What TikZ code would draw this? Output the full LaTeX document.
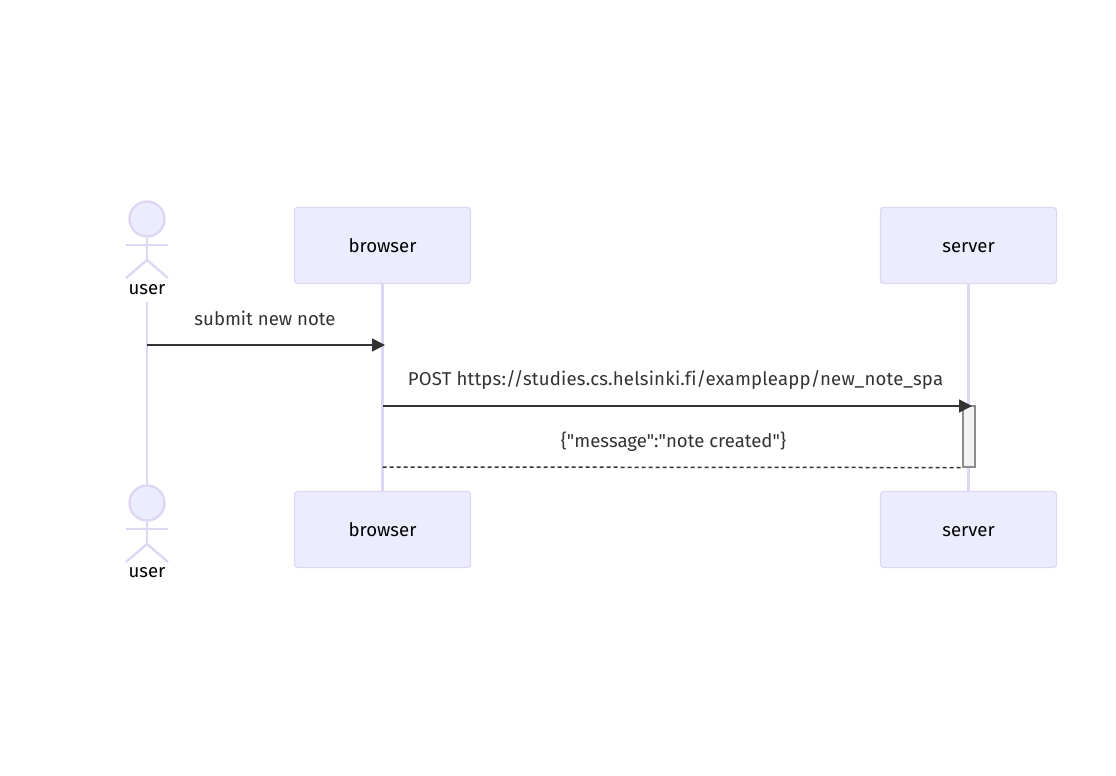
\documentclass[tikz,border=0pt]{standalone}
\usepackage{fontspec}
\setmainfont[Ligatures=NoCommon]{Fira Sans}
\newfontfamily\rawquotes[Ligatures=NoCommon]{Fira Sans}
\usepackage{xcolor}
\usetikzlibrary{arrows.meta,positioning}
\definecolor{actorfill}{HTML}{ECECFF}
\definecolor{actorline}{HTML}{DED7F4}
\definecolor{msgline}{HTML}{333333}
\begin{document}
\begin{tikzpicture}[x=1pt, y=-1pt, >={Triangle[length=13pt,width=13pt]},
  box/.style={draw=actorline, fill=actorfill, rounded corners=3pt, line width=1.2pt, minimum width=176pt, minimum height=76pt, inner sep=0pt, text height=13pt, text depth=0pt, font=\fontsize{18.6}{22}\selectfont},
  head/.style={draw=actorline, fill=actorfill, circle, line width=2.4pt, minimum size=35pt, inner sep=0pt},
  stick/.style={draw=actorline, line width=2.4pt},
  life/.style={draw=actorline, line width=2.2pt},
  who/.style={inner sep=0pt, text height=13pt, text depth=0pt, font=\fontsize{18.6}{22}\selectfont},
  msg/.style={draw=msgline, line width=1.5pt},
  lab/.style={anchor=base, inner sep=0pt, text=msgline, font=\fontsize{18.6}{22}\selectfont}]
  \useasboundingbox (0,0) rectangle (1116,776);
  \node[box] (browsertop) at (382.5,245.5) {browser};
  \node[box] (servertop) at (968.5,245.5) {server};
  \node[box] (browserbot) at (382.5,529.5) {browser};
  \node[box] (serverbot) at (968.5,529.5) {server};
  \node[who] (usertop) at (147,288) {user};
  \node[who] (userbot) at (147,571) {user};
  \node[head] (headtop) at (147,219) {};
  \node[head] (headbot) at (147,503) {};
  % lifelines
  \coordinate (usergo) at (147,302);
  \draw[life] (usergo) -- (headbot);
  \draw[life] (browsertop) -- (browserbot);
  \draw[life] (servertop) -- (serverbot);
  % stick figures
  \foreach \h/\y in {headtop/245, headbot/529} {
    \draw[stick] (\h.south) -- (147,\y+15) coordinate (hip);
    \draw[stick] (126,\y) -- (168,\y);
    \draw[stick] (126,\y+33) -- (hip) -- (168,\y+33);
  }
  % activation
  \node[draw=black!45, fill=black!5, line width=1.2pt, minimum width=12pt, minimum height=61pt, inner sep=0pt] (active) at (969,436.5) {};
  % messages
  \coordinate (usermsg) at (147,345);
  \coordinate (browsermsg) at (385,345);
  \coordinate (postfrom) at (382.5,406);
  \coordinate (postto) at (972,406);
  \coordinate (backto) at (382.5,467);
  \draw[msg, ->] (usermsg) -- (browsermsg);
  \draw[msg, ->] (postfrom) -- (postto);
  \draw[msg, dash pattern=on 4pt off 3pt] (backto) -- (active.south west);
  \node[lab] (submit) at (265,325) {submit new note};
  \node[lab] (post) at (675.5,385.5) {\addfontfeature{LetterSpace=1}POST https://studies.cs.helsinki.fi/exampleapp/new\_note\_spa};
  \node[lab] (reply) at (673.5,447) {\rawquotes\{"message":"note created"\}};
\end{tikzpicture}
\end{document}
